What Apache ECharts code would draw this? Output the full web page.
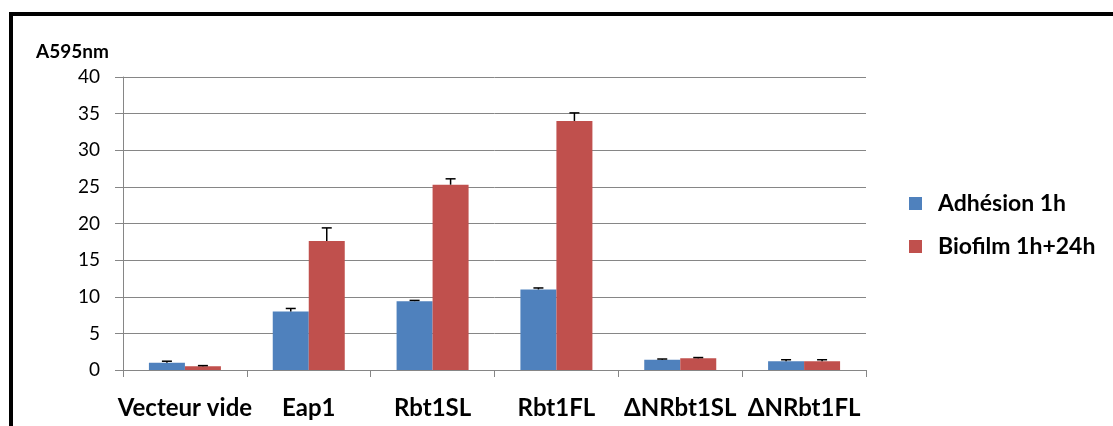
<!DOCTYPE html>
<html>
<head>
<meta charset="utf-8">
<script src="https://cdn.jsdelivr.net/npm/echarts@6/dist/echarts.min.js"></script>
<style>
  html, body { margin: 0; padding: 0; background: #fff; }
  #chart { width: 1113px; height: 426px; }
</style>
</head>
<body>
<div id="chart"></div>
<script>
var categories = ['Vecteur vide', 'Eap1', 'Rbt1SL', 'Rbt1FL', '\u0394NRbt1SL', '\u0394NRbt1FL'];
var adhesion = [1.0, 8.0, 9.4, 11.0, 1.4, 1.2];
var adhesionErr = [0.2, 0.4, 0.1, 0.2, 0.1, 0.2];
var biofilm = [0.5, 17.6, 25.3, 34.0, 1.6, 1.2];
var biofilmErr = [0.1, 1.8, 0.8, 1.1, 0.1, 0.2];
var yTicks = [0, 5, 10, 15, 20, 25, 30, 35, 40];

var chart = echarts.init(document.getElementById('chart'));
var font = 'Lato, "Open Sans", sans-serif';
var barW = 36;

// error bars (upper only), one custom series per bar series
function errSeries(vals, errs, shift) {
    var data = vals.map(function (v, i) { return [i, v, v + errs[i]]; });
    return {
        type: 'custom',
        z: 10,
        silent: true,
        data: data,
        renderItem: function (params, api) {
            var top = api.coord([api.value(0), api.value(2)]);
            var base = api.coord([api.value(0), api.value(1)]);
            var x = top[0] + shift;
            var style = { stroke: '#000', lineWidth: 1.5 };
            return {
                type: 'group',
                children: [
                    { type: 'line', shape: { x1: x, y1: base[1], x2: x, y2: top[1] }, style: style },
                    { type: 'line', shape: { x1: x - 5, y1: top[1], x2: x + 5, y2: top[1] }, style: style }
                ]
            };
        }
    };
}

var option = {
    animation: false,
    backgroundColor: '#fff',
    graphic: [
        { type: 'rect', shape: { x: 9, y: 12, width: 1104, height: 4 }, style: { fill: '#000' } },
        { type: 'rect', shape: { x: 9, y: 12, width: 4, height: 414 }, style: { fill: '#000' } },
        { type: 'text', left: 36, top: 42, style: { text: 'A595nm', font: 'bold 19px ' + font, fill: '#000' } }
    ],
    grid: { left: 123, right: 247, top: 77, bottom: 56 },
    legend: {
        orient: 'vertical',
        left: 904,
        top: 187,
        itemWidth: 13,
        itemHeight: 13,
        itemGap: 20,
        icon: 'rect',
        data: ['Adh\u00e9sion 1h', 'Biofilm 1h+24h'],
        textStyle: { fontFamily: font, fontWeight: 'bold', fontSize: 23, color: '#000', padding: [0, 0, 0, 11] }
    },
    xAxis: {
        type: 'category',
        data: categories,
        boundaryGap: true,
        axisLine: { lineStyle: { color: '#868686', width: 1 } },
        axisTick: { show: true, interval: 0, length: 7, lineStyle: { color: '#868686' } },
        axisLabel: { interval: 0, margin: 26, fontFamily: font, fontWeight: 'bold', fontSize: 24, color: '#000' }
    },
    yAxis: {
        type: 'value',
        min: 0,
        max: 40,
        interval: 5,
        axisLine: { show: true, lineStyle: { color: '#868686', width: 1 } },
        axisTick: { show: true, length: 8, lineStyle: { color: '#868686' } },
        splitLine: { lineStyle: { color: '#868686', width: 1 } },
        axisLabel: {
            margin: 23,
            fontFamily: font,
            fontSize: 19,
            color: '#000',
            formatter: function (v) { return yTicks.indexOf(v) >= 0 ? String(v) : ''; }
        }
    },
    series: [
        {
            name: 'Adh\u00e9sion 1h',
            type: 'bar',
            data: adhesion,
            barWidth: barW,
            barGap: '0%',
            itemStyle: { color: '#4F81BD' }
        },
        {
            name: 'Biofilm 1h+24h',
            type: 'bar',
            data: biofilm,
            barWidth: barW,
            itemStyle: { color: '#C0504D' }
        },
        errSeries(adhesion, adhesionErr, -barW / 2),
        errSeries(biofilm, biofilmErr, barW / 2)
    ]
};

chart.setOption(option);
</script>
</body>
</html>
